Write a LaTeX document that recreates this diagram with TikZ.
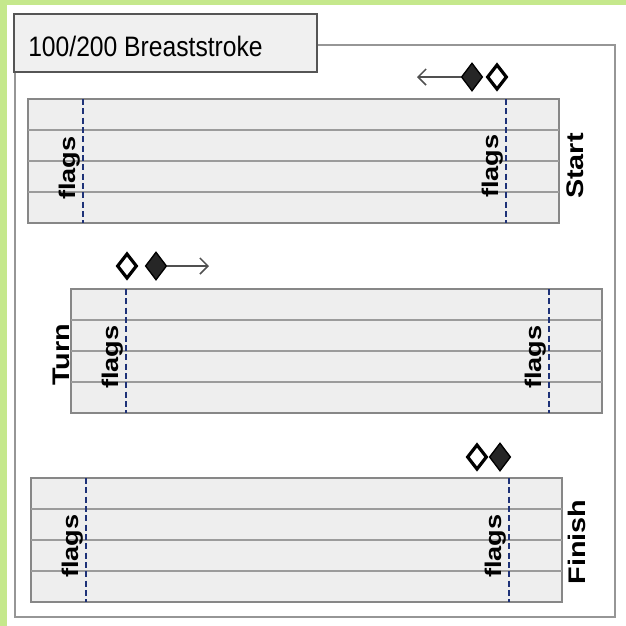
\documentclass[tikz,border=0pt]{standalone}
\usepackage{fontspec}
\setmainfont{Liberation Sans}
\usetikzlibrary{shapes.geometric,arrows.meta}

\definecolor{bggreen}{RGB}{197,232,140}
\definecolor{framegray}{RGB}{150,150,150}
\definecolor{titlegray}{RGB}{85,85,85}
\definecolor{titlefill}{RGB}{240,240,240}
\definecolor{poolgray}{RGB}{135,135,135}
\definecolor{poolfill}{RGB}{238,238,238}
\definecolor{lanegray}{RGB}{155,155,155}
\definecolor{flagblue}{RGB}{30,50,120}
\definecolor{arrowgray}{RGB}{80,80,80}

\newcommand{\stretched}[1]{\scalebox{1.2}[1]{#1}}

\tikzset{
  pool/.style={draw=poolgray, fill=poolfill, line width=1.5pt},
  lane/.style={draw=lanegray, line width=1.3pt},
  flagline/.style={draw=flagblue, dash pattern=on 4.5pt off 2.5pt, line width=1.4pt},
  flagtext/.style={rotate=90, inner sep=0pt, font=\bfseries\fontsize{17}{17}\selectfont},
  endtext/.style={rotate=90, inner sep=0pt, font=\bfseries\fontsize{18}{18}\selectfont},
  openswim/.style={diamond, draw=black, fill=white, line width=2.4pt, minimum width=15pt, minimum height=19pt, inner sep=0pt},
  fullswim/.style={diamond, draw=black, fill=black!85, line width=1pt, minimum width=16pt, minimum height=21pt, inner sep=0pt},
  heading/.style={draw=arrowgray, line width=1.1pt, -{Straight Barb[length=6pt,width=12pt]}}
}

\begin{document}
\begin{tikzpicture}[x=0.75pt,y=0.75pt,yscale=-1,xscale=1]
    \useasboundingbox (0,0) rectangle (626,626);
    \fill [white] (0,0) rectangle (626,626);

    % green edge of the page
    \fill [bggreen] (0,0) rectangle (626,5);
    \fill [bggreen] (0,0) rectangle (7,626);

    % outer frame
    \draw [framegray, line width=1.4pt] (15,45) rectangle (615,617);
    % title box
    \draw [draw=titlegray, fill=titlefill, line width=1.6pt] (14,14) rectangle (317,72);
    \node (title) at (28,56) [anchor=base west, inner sep=0pt, font=\fontsize{18.5}{19}\selectfont] {\scalebox{1}[1.14]{100/200 Breaststroke}};

    %Pool: Start
    \draw [pool] (28,99) rectangle (559,223);
    \draw [lane] (28,130) -- (559,130) (28,161) -- (559,161) (28,192) -- (559,192);
    \draw [flagline] (83,99) -- (83,223) (506,99) -- (506,223);
    \node (flagsA) at (70,168) [flagtext] {\stretched{flags}};
    \node (flagsB) at (493,166) [flagtext] {\stretched{flags}};
    \node (start) at (575,166) [endtext] {\stretched{Start}};
    % swimmers at the start
    \node (startopen) at (497,77) [openswim] {};
    \node (startfull) at (472,77) [fullswim] {};
    \coordinate (startgo) at (417,77);
    \draw [heading] (startfull) -- (startgo);

    %Pool: Turn
    \draw [pool] (71,289) rectangle (602,413);
    \draw [lane] (71,320) -- (602,320) (71,351) -- (602,351) (71,382) -- (602,382);
    \draw [flagline] (126,289) -- (126,413) (549,289) -- (549,413);
    \node (flagsC) at (113,357) [flagtext] {\stretched{flags}};
    \node (flagsD) at (536,357) [flagtext] {\stretched{flags}};
    \node (turn) at (61,355) [endtext] {\stretched{Turn}};
    % swimmers at the turn
    \node (turnopen) at (127,266) [openswim] {};
    \node (turnfull) at (156,266) [fullswim] {};
    \coordinate (turngo) at (209,266);
    \draw [heading] (turnfull) -- (turngo);

    %Pool: Finish
    \draw [pool] (31,478) rectangle (562,602);
    \draw [lane] (31,509) -- (562,509) (31,540) -- (562,540) (31,571) -- (562,571);
    \draw [flagline] (86,478) -- (86,602) (509,478) -- (509,602);
    \node (flagsE) at (73,546) [flagtext] {\stretched{flags}};
    \node (flagsF) at (496,546) [flagtext] {\stretched{flags}};
    \node (finish) at (577,542) [endtext] {\stretched{Finish}};
    % swimmers at the finish
    \node (finishopen) at (477,457) [openswim] {};
    \node (finishfull) at (500,457) [fullswim] {};
\end{tikzpicture}
\end{document}
